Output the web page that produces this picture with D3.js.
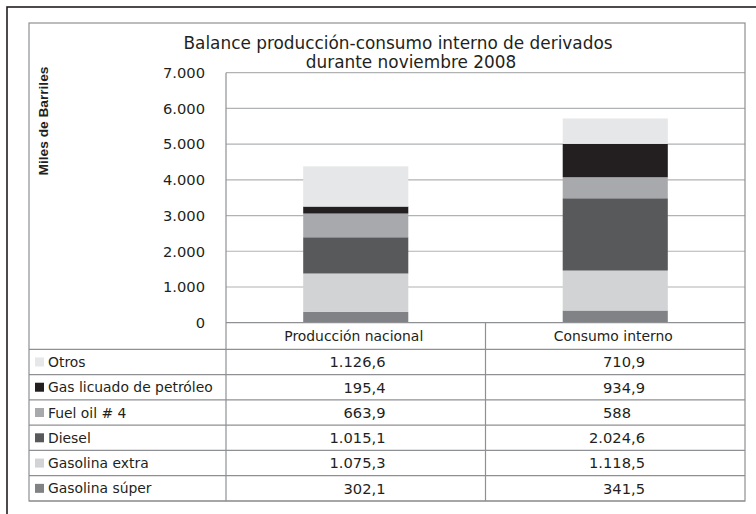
<!DOCTYPE html>
<html>
<head>
<meta charset="utf-8">
<script src="https://cdn.jsdelivr.net/npm/d3@7"></script>
<style>
  html, body { margin: 0; padding: 0; background: #ffffff; }
  svg { display: block; }
  text { fill: #231f20; font-family: "DejaVu Sans", sans-serif; }
</style>
</head>
<body>
<svg id="chart" width="756" height="514"></svg>
<script>
// ---- data ----
const categories = ["Producción nacional", "Consumo interno"];
// stacking order, bottom to top
const seriesNames = ["Gasolina súper", "Gasolina extra", "Diesel", "Fuel oil # 4", "Gas licuado de petróleo", "Otros"];
const produccionNacional = [302.1, 1075.3, 1015.1, 663.9, 195.4, 1126.6];
const consumoInterno = [341.5, 1118.5, 2024.6, 588, 934.9, 710.9];
const yTickValues = [0, 1000, 2000, 3000, 4000, 5000, 6000, 7000];
const titleLines = ["Balance producción-consumo interno de derivados", "durante noviembre 2008"];
const yAxisTitle = "Miles de Barriles";

// ---- styles ----
const seriesColors = ["#808285", "#d1d3d4", "#58595b", "#a7a9ac", "#231f20", "#e6e7e8"];
const gridColor = "#b1b2b4";
const frameColor = "#8f9093";

const svg = d3.select("#chart");
const loc = d3.formatLocale({decimal: ",", thousands: ".", grouping: [3], currency: ["", ""]});
const fmtInt = loc.format(",d");
const fmtDec = loc.format(",.1f");
const fmtVal = v => Number.isInteger(v) ? fmtInt(v) : fmtDec(v);

const seriesByCat = {
  "Producción nacional": produccionNacional,
  "Consumo interno": consumoInterno
};
const tableData = categories.map(c => {
  const o = {category: c};
  seriesNames.forEach((s, i) => o[s] = seriesByCat[c][i]);
  return o;
});

// layout
const plotL = 226, plotR = 745, plotT = 72.7, baseY = 322.7;
const frameL = 29, frameT = 23, tableB = 501;
const headerB = 349.3;

const x = d3.scaleBand().domain(categories).range([plotL, plotR]);
const xBar = d3.scaleBand().domain(categories).range([plotL, plotR]).paddingInner(0.595).paddingOuter(0.2975);
const y = d3.scaleLinear().domain([0, 7000]).range([baseY, plotT]);
const rowOrder = seriesNames.slice().reverse();
const yRow = d3.scaleBand().domain(rowOrder).range([headerB, tableB]);
const color = d3.scaleOrdinal().domain(seriesNames).range(seriesColors);

// outer black border
svg.append("rect").attr("x", 7).attr("y", 7).attr("width", 760).attr("height", 520)
  .attr("fill", "none").attr("stroke", "#231f20").attr("stroke-width", 1.6);

// gridlines
svg.append("g").selectAll("line").data(yTickValues.filter(d => d > 0)).join("line")
  .attr("x1", plotL).attr("x2", plotR)
  .attr("y1", d => y(d)).attr("y2", d => y(d))
  .attr("stroke", gridColor).attr("stroke-width", 1.2);

// stacked bars
const stack = d3.stack().keys(seriesNames);
const stacked = stack(tableData);
svg.append("g").selectAll("g").data(stacked).join("g")
  .attr("fill", d => color(d.key))
  .selectAll("rect").data(d => d).join("rect")
  .attr("x", d => xBar(d.data.category))
  .attr("width", xBar.bandwidth())
  .attr("y", d => y(d[1]))
  .attr("height", d => y(d[0]) - y(d[1]));

// y tick labels
svg.append("g").selectAll("text").data(yTickValues).join("text")
  .attr("x", 205).attr("y", d => y(d)).attr("dy", "0.36em")
  .attr("text-anchor", "end").style("font-size", "14.7px")
  .text(d => fmtInt(d));

// table lines
const g = svg.append("g").attr("stroke", frameColor).attr("stroke-width", 1.2).attr("fill", "none");
// baseline / header top
g.append("line").attr("x1", plotL).attr("x2", plotR).attr("y1", baseY).attr("y2", baseY);
// row lines
const rowLines = [headerB].concat(rowOrder.map(r => yRow(r) + yRow.bandwidth()));
g.selectAll("line.row").data(rowLines).join("line").attr("class", "row")
  .attr("x1", frameL).attr("x2", plotR).attr("y1", d => d).attr("y2", d => d);
// vertical axis line
g.append("line").attr("x1", plotL).attr("x2", plotL).attr("y1", plotT).attr("y2", tableB);
// column divider
g.append("line").attr("x1", x(categories[1])).attr("x2", x(categories[1])).attr("y1", baseY).attr("y2", tableB);
// frame
g.append("rect").attr("x", frameL).attr("y", frameT).attr("width", plotR - frameL).attr("height", tableB - frameT);

// title
svg.append("text").attr("x", 398).attr("y", 49).attr("text-anchor", "middle")
  .style("font-size", "16.9px").text(titleLines[0]);
svg.append("text").attr("x", 411).attr("y", 67.5).attr("text-anchor", "middle")
  .style("font-size", "16.9px").text(titleLines[1]);

// y axis title
svg.append("text")
  .attr("transform", "translate(47.5,121) rotate(-90)")
  .attr("text-anchor", "middle")
  .style("font-family", "'Liberation Sans', Arial, sans-serif")
  .style("font-weight", "bold").style("font-size", "13.7px")
  .text(yAxisTitle);

// header row
svg.append("g").selectAll("text").data(categories).join("text")
  .attr("x", d => x(d) + x.bandwidth() / 2 - 2)
  .attr("y", (baseY + headerB) / 2).attr("dy", "0.36em")
  .attr("text-anchor", "middle").style("font-size", "13.9px")
  .text(d => d);

// row labels with legend keys
const rows = svg.append("g").selectAll("g").data(rowOrder).join("g")
  .attr("transform", d => `translate(0,${yRow(d) + yRow.bandwidth() / 2})`);
rows.append("rect").attr("x", 35).attr("y", -4.5).attr("width", 9).attr("height", 9)
  .attr("fill", d => color(d));
rows.append("text").attr("x", 48).attr("dy", "0.36em")
  .style("font-size", "13.9px").text(d => d);

// measure width of decimal part for alignment
const probe = svg.append("text").style("font-size", "14.7px").text(",0");
const decW = probe.node().getComputedTextLength();
probe.remove();

// values
categories.forEach(c => {
  const vals = seriesByCat[c];
  svg.append("g").selectAll("text").data(rowOrder).join("text")
    .attr("x", s => {
      const v = vals[seriesNames.indexOf(s)];
      return x(c) + 159.5 - (Number.isInteger(v) ? decW : 0);
    })
    .attr("y", s => yRow(s) + yRow.bandwidth() / 2).attr("dy", "0.36em")
    .attr("text-anchor", "end").style("font-size", "14.7px")
    .text(s => fmtVal(vals[seriesNames.indexOf(s)]));
});
</script>
</body>
</html>
